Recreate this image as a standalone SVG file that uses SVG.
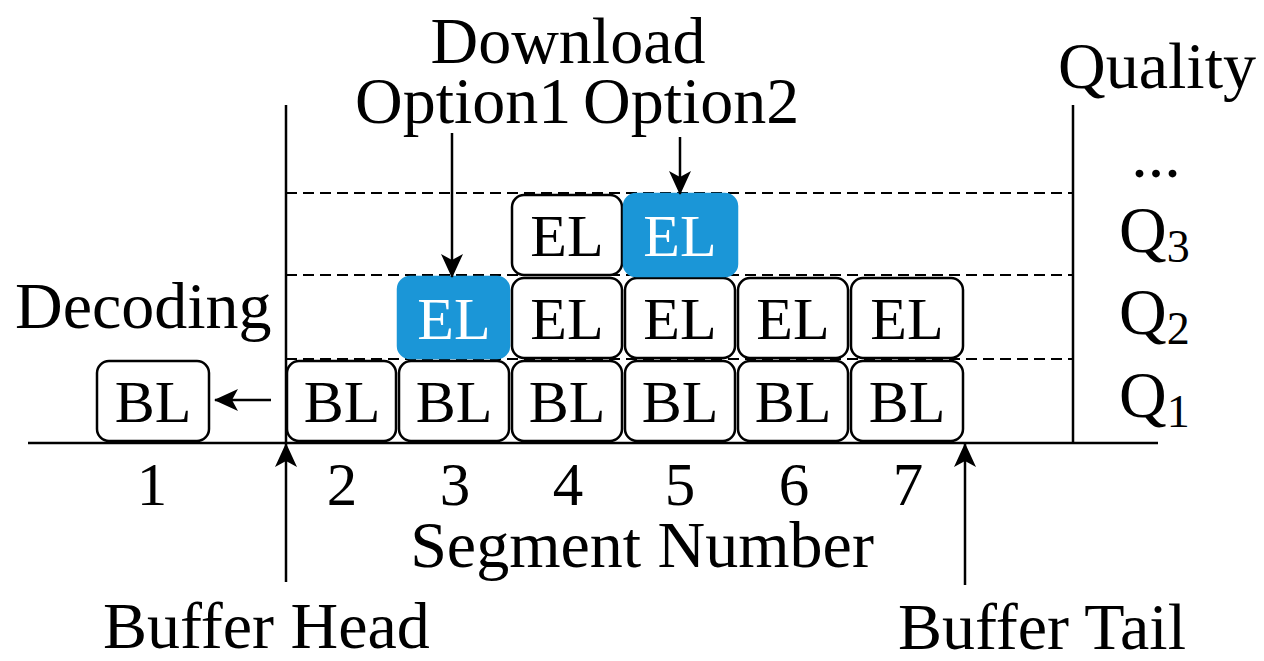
<svg xmlns="http://www.w3.org/2000/svg" width="1264" height="661" viewBox="0 0 1264 661">
  <style>
    text { font-family: "Liberation Serif", "Times New Roman", serif; fill: #000; }
    .lbl { font-size: 66px; }
    .num { font-size: 61px; text-anchor: middle; }
    .seg { fill: #fff; stroke: #000; stroke-width: 2.5; }
    .seg.sel { fill: #1b96d7; stroke: #1b96d7; }
    .seg-t { font-size: 60px; text-anchor: middle; }
    .sel-t { fill: #fff; }
    .axis { stroke: #000; stroke-width: 2.5; fill: none; }
    .level { stroke: #000; stroke-width: 2.2; stroke-dasharray: 11 6; fill: none; }
    .arrow { stroke: #000; stroke-width: 2.5; fill: none; marker-end: url(#head); }
  </style>
  <defs>
    <marker id="head" viewBox="0 0 24 22" refX="23" refY="11" markerWidth="24" markerHeight="22" markerUnits="userSpaceOnUse" orient="auto">
      <path d="M0,0 L24,11 L0,22 L6,11 Z" fill="#000"/>
    </marker>
  </defs>

  <rect width="1264" height="661" fill="#fff"/>

  <!-- axes and quality levels -->
  <g id="axes">
    <line class="axis" x1="28" y1="443" x2="1158" y2="443"/>
    <line class="axis" x1="286" y1="105" x2="286" y2="443"/>
    <line class="axis" x1="1073" y1="105" x2="1073" y2="443"/>
    <line class="level" x1="286" y1="193" x2="1073" y2="193"/>
    <line class="level" x1="286" y1="275" x2="1073" y2="275"/>
    <line class="level" x1="286" y1="359" x2="1073" y2="359"/>
  </g>

  <!-- segment being decoded -->
  <g id="decoding-bl">
    <rect class="seg" x="97" y="361" width="112" height="80" rx="12"/>
    <text class="seg-t" x="153" y="422">BL</text>
  </g>

  <!-- base layer row (Q1) -->
  <g id="bl-2"><rect class="seg" x="287" y="361" width="109" height="80" rx="12"/><text class="seg-t" x="342" y="422">BL</text></g>
  <g id="bl-3"><rect class="seg" x="399" y="361" width="110" height="80" rx="12"/><text class="seg-t" x="454" y="422">BL</text></g>
  <g id="bl-4"><rect class="seg" x="512" y="361" width="110" height="80" rx="12"/><text class="seg-t" x="567" y="422">BL</text></g>
  <g id="bl-5"><rect class="seg" x="625" y="361" width="110" height="80" rx="12"/><text class="seg-t" x="680" y="422">BL</text></g>
  <g id="bl-6"><rect class="seg" x="738" y="361" width="110" height="80" rx="12"/><text class="seg-t" x="793" y="422">BL</text></g>
  <g id="bl-7"><rect class="seg" x="851" y="361" width="112" height="80" rx="12"/><text class="seg-t" x="907" y="422">BL</text></g>

  <!-- enhancement layer row (Q2) -->
  <g id="el2-3"><rect class="seg sel" x="398" y="277" width="111" height="81" rx="12"/><text class="seg-t sel-t" x="454" y="339">EL</text></g>
  <g id="el2-4"><rect class="seg" x="512" y="278" width="110" height="80" rx="12"/><text class="seg-t" x="567" y="339">EL</text></g>
  <g id="el2-5"><rect class="seg" x="625" y="278" width="110" height="80" rx="12"/><text class="seg-t" x="680" y="339">EL</text></g>
  <g id="el2-6"><rect class="seg" x="738" y="278" width="110" height="80" rx="12"/><text class="seg-t" x="793" y="339">EL</text></g>
  <g id="el2-7"><rect class="seg" x="851" y="278" width="112" height="80" rx="12"/><text class="seg-t" x="907" y="339">EL</text></g>

  <!-- enhancement layer row (Q3) -->
  <g id="el3-4"><rect class="seg" x="512" y="195" width="110" height="80" rx="12"/><text class="seg-t" x="567" y="256">EL</text></g>
  <g id="el3-5"><rect class="seg sel" x="624" y="194" width="113" height="82" rx="12"/><text class="seg-t sel-t" x="680" y="256">EL</text></g>

  <!-- connectors -->
  <g id="connectors">
    <line class="arrow" x1="271" y1="400" x2="215" y2="400"/>
    <line class="arrow" x1="452" y1="133" x2="452" y2="277"/>
    <line class="arrow" x1="680" y1="137" x2="680" y2="194"/>
    <line class="arrow" x1="286" y1="582" x2="286" y2="444"/>
    <line class="arrow" x1="965" y1="585" x2="965" y2="444"/>
  </g>

  <!-- labels -->
  <g id="labels">
    <text class="lbl" x="568" y="63" text-anchor="middle">Download</text>
    <text class="lbl" x="355" y="123">Option1</text>
    <text class="lbl" x="583" y="123">Option2</text>
    <text class="lbl" x="1058" y="88">Quality</text>
    <text class="lbl" x="1156" y="177" text-anchor="middle">...</text>
    <text class="lbl" x="1119" y="252">Q<tspan font-size="46" dy="10">3</tspan></text>
    <text class="lbl" x="1119" y="334">Q<tspan font-size="46" dy="10">2</tspan></text>
    <text class="lbl" x="1119" y="417">Q<tspan font-size="46" dy="10">1</tspan></text>
    <text class="lbl" x="15" y="328">Decoding</text>
    <text class="num" x="152" y="505">1</text>
    <text class="num" x="342" y="505">2</text>
    <text class="num" x="455" y="505">3</text>
    <text class="num" x="568" y="505">4</text>
    <text class="num" x="680" y="505">5</text>
    <text class="num" x="794" y="505">6</text>
    <text class="num" x="908" y="505">7</text>
    <text class="lbl" x="642" y="567" text-anchor="middle">Segment Number</text>
    <text class="lbl" x="103" y="648">Buffer Head</text>
    <text class="lbl" x="898" y="649">Buffer Tail</text>
  </g>
</svg>
